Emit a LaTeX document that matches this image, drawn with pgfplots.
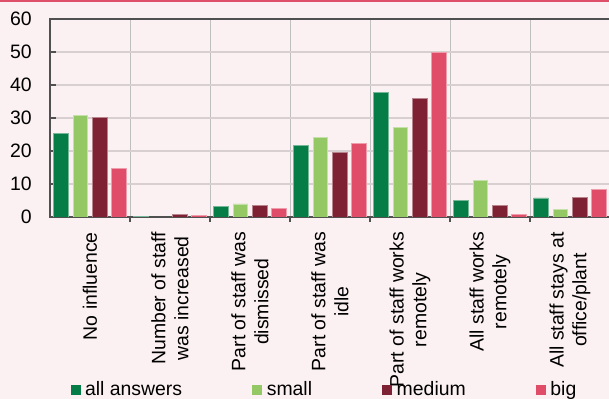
\documentclass[border=0pt]{standalone}
\usepackage{fontspec}
\setmainfont{Liberation Sans}
\usepackage{pgfplots}
\pgfplotsset{compat=1.18}

\definecolor{bg}{HTML}{FBF1F2}
\definecolor{topbar}{HTML}{E04F69}
\definecolor{cAll}{HTML}{067D46}
\definecolor{cSmall}{HTML}{93C864}
\definecolor{cMedium}{HTML}{7E2132}
\definecolor{cBig}{HTML}{E04D68}
\definecolor{axisgray}{HTML}{505050}
\definecolor{hgrid}{HTML}{D8CFD1}
\definecolor{vgrid}{HTML}{BFBFBF}

\begin{document}
\fontsize{19.5}{23}\selectfont
\begin{tikzpicture}
\useasboundingbox (0bp,0bp) rectangle (609bp,399bp);
\clip (0bp,0bp) rectangle (609bp,399bp);
\fill[bg] (0bp,0bp) rectangle (609bp,399bp);
\fill[topbar] (0bp,397bp) rectangle (609bp,399bp);
\begin{axis}[
  at={(50bp,182bp)}, anchor=south west,
  scale only axis, width=560bp, height=198bp,
  xmin=-0.5, xmax=6.5, ymin=0, ymax=60,
  ybar=4.6bp, bar width=14.7bp,
  xtick={0,...,6},
  xticklabels={No influence,
    {Number of staff\\was increased},
    {Part of staff was\\dismissed},
    {Part of staff was\\idle},
    {Part of staff works\\remotely},
    {All staff works\\remotely},
    {All staff stays at\\office/plant}},
  xticklabel style={rotate=90, anchor=east, align=center, inner sep=0pt},
  xticklabel shift=9bp,
  major x tick style={draw=none},
  minor xtick={0.5,1.5,2.5,3.5,4.5,5.5},
  minor tick length=5bp,
  minor x tick style={axisgray, line width=1.6bp},
  xminorgrids=true,
  minor x grid style={vgrid, line width=0.9bp},
  ytick={0,10,...,60},
  ymajorgrids=true,
  major y grid style={hgrid, line width=1.2bp},
  major tick length=6bp,
  major y tick style={axisgray, line width=1.3bp},
  yticklabel style={inner sep=0pt},
  yticklabel shift=18bp,
  /pgf/number format/assume math mode=true,
  tick pos=left,
  axis line style={axisgray, line width=2bp},
  legend columns=4,
  legend image code/.code={\fill[#1,draw=none] (0bp,-5bp) rectangle (10bp,5bp);},
  legend style={at={(0.037,-0.875)}, anchor=west, draw=none, fill=none,
    inner sep=0pt, outer sep=0pt,
    nodes={inner xsep=4.3bp, inner ysep=0pt},
    /tikz/every even column/.append style={column sep=66bp}},
]
\addplot[fill=cAll, draw=cAll!55!white, line width=0.6bp]
  coordinates {(0,25.3) (1,0.3) (2,3.3) (3,21.6) (4,37.8) (5,5.0) (6,5.8)};
\addplot[fill=cSmall, draw=cSmall!55!white, line width=0.6bp]
  coordinates {(0,30.7) (1,0) (2,4.0) (3,24.1) (4,27.1) (5,11.1) (6,2.4)};
\addplot[fill=cMedium, draw=cMedium!55!white, line width=0.6bp]
  coordinates {(0,30.1) (1,0.9) (2,3.6) (3,19.5) (4,35.9) (5,3.6) (6,6.0)};
\addplot[fill=cBig, draw=cBig!55!white, line width=0.6bp]
  coordinates {(0,14.8) (1,0.5) (2,2.6) (3,22.2) (4,50.0) (5,0.7) (6,8.3)};
\legend{all answers, small, medium, big}
\end{axis}
\end{tikzpicture}
\end{document}
